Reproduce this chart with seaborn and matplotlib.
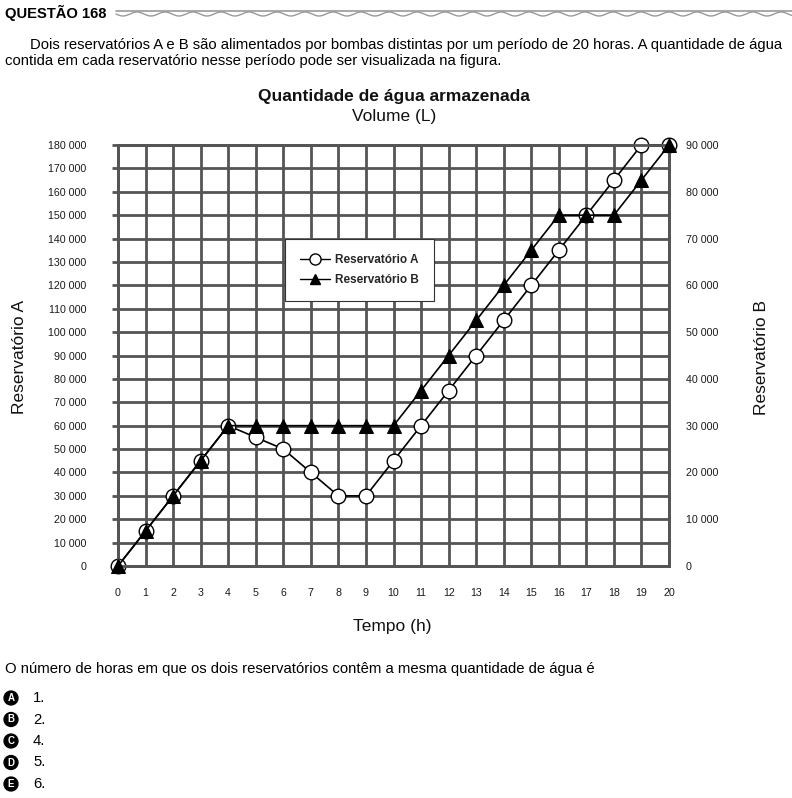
import numpy as np
import pandas as pd
import matplotlib
matplotlib.use("Agg")
import matplotlib.pyplot as plt
from matplotlib.lines import Line2D
import seaborn as sns

# data
horas = list(range(21))
reserv_a = [0, 15000, 30000, 45000, 60000, 55000, 50000, 40000, 30000, 30000, 45000,
            60000, 75000, 90000, 105000, 120000, 135000, 150000, 165000, 180000, 180000]
reserv_b = [0, 7500, 15000, 22500, 30000, 30000, 30000, 30000, 30000, 30000, 30000,
            37500, 45000, 52500, 60000, 67500, 75000, 75000, 75000, 82500, 90000]
ticks_a = list(range(0, 180001, 10000))
ticks_b = list(range(0, 90001, 10000))
alternativas = ["A", "B", "C", "D", "E"]
respostas = ["1.", "2.", "4.", "5.", "6."]

df = pd.DataFrame({"Tempo": horas, "A": reserv_a, "B": reserv_b})

sns.set_theme(style="white")
plt.rcParams["font.family"] = ["Liberation Sans", "DejaVu Sans"]

W, H = 792, 798
fig = plt.figure(figsize=(W / 100, H / 100), dpi=100)

def fx(px):
    return px / W

def fy(py):
    return 1 - py / H

grid_c = "#555555"

ax = fig.add_axes([fx(118), fy(566), fx(669) - fx(118), fy(145) - fy(566)])
ax2 = ax.twinx()

sns.lineplot(data=df, x="Tempo", y="A", ax=ax, color="black", lw=1.2, marker="o",
             markersize=10.5, markerfacecolor="white", markeredgecolor="black",
             markeredgewidth=1.0, clip_on=False, zorder=3, legend=False)
sns.lineplot(data=df, x="Tempo", y="B", ax=ax2, color="black", lw=1.2, marker="^",
             markersize=10, markerfacecolor="black", markeredgecolor="black",
             clip_on=False, zorder=4, legend=False)

ax.set_xlim(0, 20)
ax.set_ylim(0, 180000)
ax2.set_ylim(0, 90000)
ax.set_xticks(horas)
ax.set_yticks(ticks_a)
ax2.set_yticks(ticks_b)
fmt = lambda v: "0" if v == 0 else f"{v:,}".replace(",", " ")
ax.set_xticklabels([str(h) for h in horas], fontsize=7.7)
ax.set_yticklabels([fmt(v) for v in ticks_a], fontsize=7.7)
ax2.set_yticklabels([fmt(v) for v in ticks_b], fontsize=7.7)
ax.set_xlabel("")
ax.set_ylabel("")
ax2.set_ylabel("")

ax.grid(True, color=grid_c, lw=2)
ax.set_axisbelow(True)
for a in (ax, ax2):
    for s in a.spines.values():
        s.set_color(grid_c)
        s.set_linewidth(2)
ax.tick_params(axis="x", length=6, width=2, color=grid_c, pad=10, labelcolor="#1a1a1a")
ax.tick_params(axis="y", length=4.5, width=2, color=grid_c, pad=18, labelcolor="#1a1a1a")
ax2.tick_params(axis="y", length=0, pad=12, labelcolor="#1a1a1a")
ax.patch.set_facecolor("white")
ax2.patch.set_alpha(0)

handles = [
    Line2D([], [], color="black", lw=1.0, marker="o", markersize=8,
           markerfacecolor="white", markeredgecolor="black"),
    Line2D([], [], color="black", lw=1.0, marker="^", markersize=7,
           markerfacecolor="black", markeredgecolor="black"),
]
leg = ax2.legend(handles, ["Reservatório A", "Reservatório B"], loc="upper left",
                 bbox_to_anchor=(0.303, 0.776), frameon=True, fancybox=False,
                 edgecolor="#333333", framealpha=1, handlelength=2.6,
                 prop={"weight": "bold", "size": 8.5}, borderpad=1.25,
                 labelspacing=0.7, handletextpad=0.4, borderaxespad=0)
leg.get_frame().set_linewidth(0.8)

# titles and axis labels
fig.text(fx(394), fy(96), "Quantidade de água armazenada", ha="center", va="center",
         fontsize=12.5, fontweight="bold", color="#111111")
fig.text(fx(394), fy(117), "Volume (L)", ha="center", va="center", fontsize=12.5,
         color="#111111")
fig.text(fx(392), fy(627), "Tempo (h)", ha="center", va="center", fontsize=12.5,
         color="#111111")
fig.text(fx(20), fy(357), "Reservatório A", ha="center", va="center", rotation=90,
         fontsize=12.5, color="#111111")
fig.text(fx(762), fy(357), "Reservatório B", ha="center", va="center", rotation=90,
         fontsize=12.5, color="#111111")

# header
fig.text(fx(5), fy(13), "QUESTÃO 168", ha="left", va="center", fontsize=10.6,
         fontweight="bold", color="black")
wx = np.linspace(116, 792, 900)
wy = 14 + 2.0 * np.sin((wx - 116) / 28.0 * 2 * np.pi)
fig.add_artist(Line2D(fx(wx), fy(wy), color="#9a9a9a", lw=1.0))
fig.add_artist(Line2D([fx(116), fx(792)], [fy(10.5), fy(10.5)], color="#9a9a9a", lw=1.2))

fig.text(fx(30), fy(45), "Dois reservatórios A e B são alimentados por bombas distintas por um "
         "período de 20 horas. A quantidade de água", ha="left", va="center",
         fontsize=10.7, color="black")
fig.text(fx(5), fy(61), "contida em cada reservatório nesse período pode ser visualizada na figura.",
         ha="left", va="center", fontsize=10.7, color="black")

fig.text(fx(5), fy(669), "O número de horas em que os dois reservatórios contêm a mesma "
         "quantidade de água é", ha="left", va="center", fontsize=10.7, color="black")
for i, (l, r) in enumerate(zip(alternativas, respostas)):
    yy = 698 + i * 21.5
    fig.text(fx(11), fy(yy), l, ha="center", va="center", fontsize=7, fontweight="bold",
             color="white", bbox=dict(boxstyle="circle,pad=0.2", fc="black", ec="black"))
    fig.text(fx(33), fy(yy), r, ha="left", va="center", fontsize=10.7, color="black")

fig.savefig("out.png", dpi=100, facecolor="white")
